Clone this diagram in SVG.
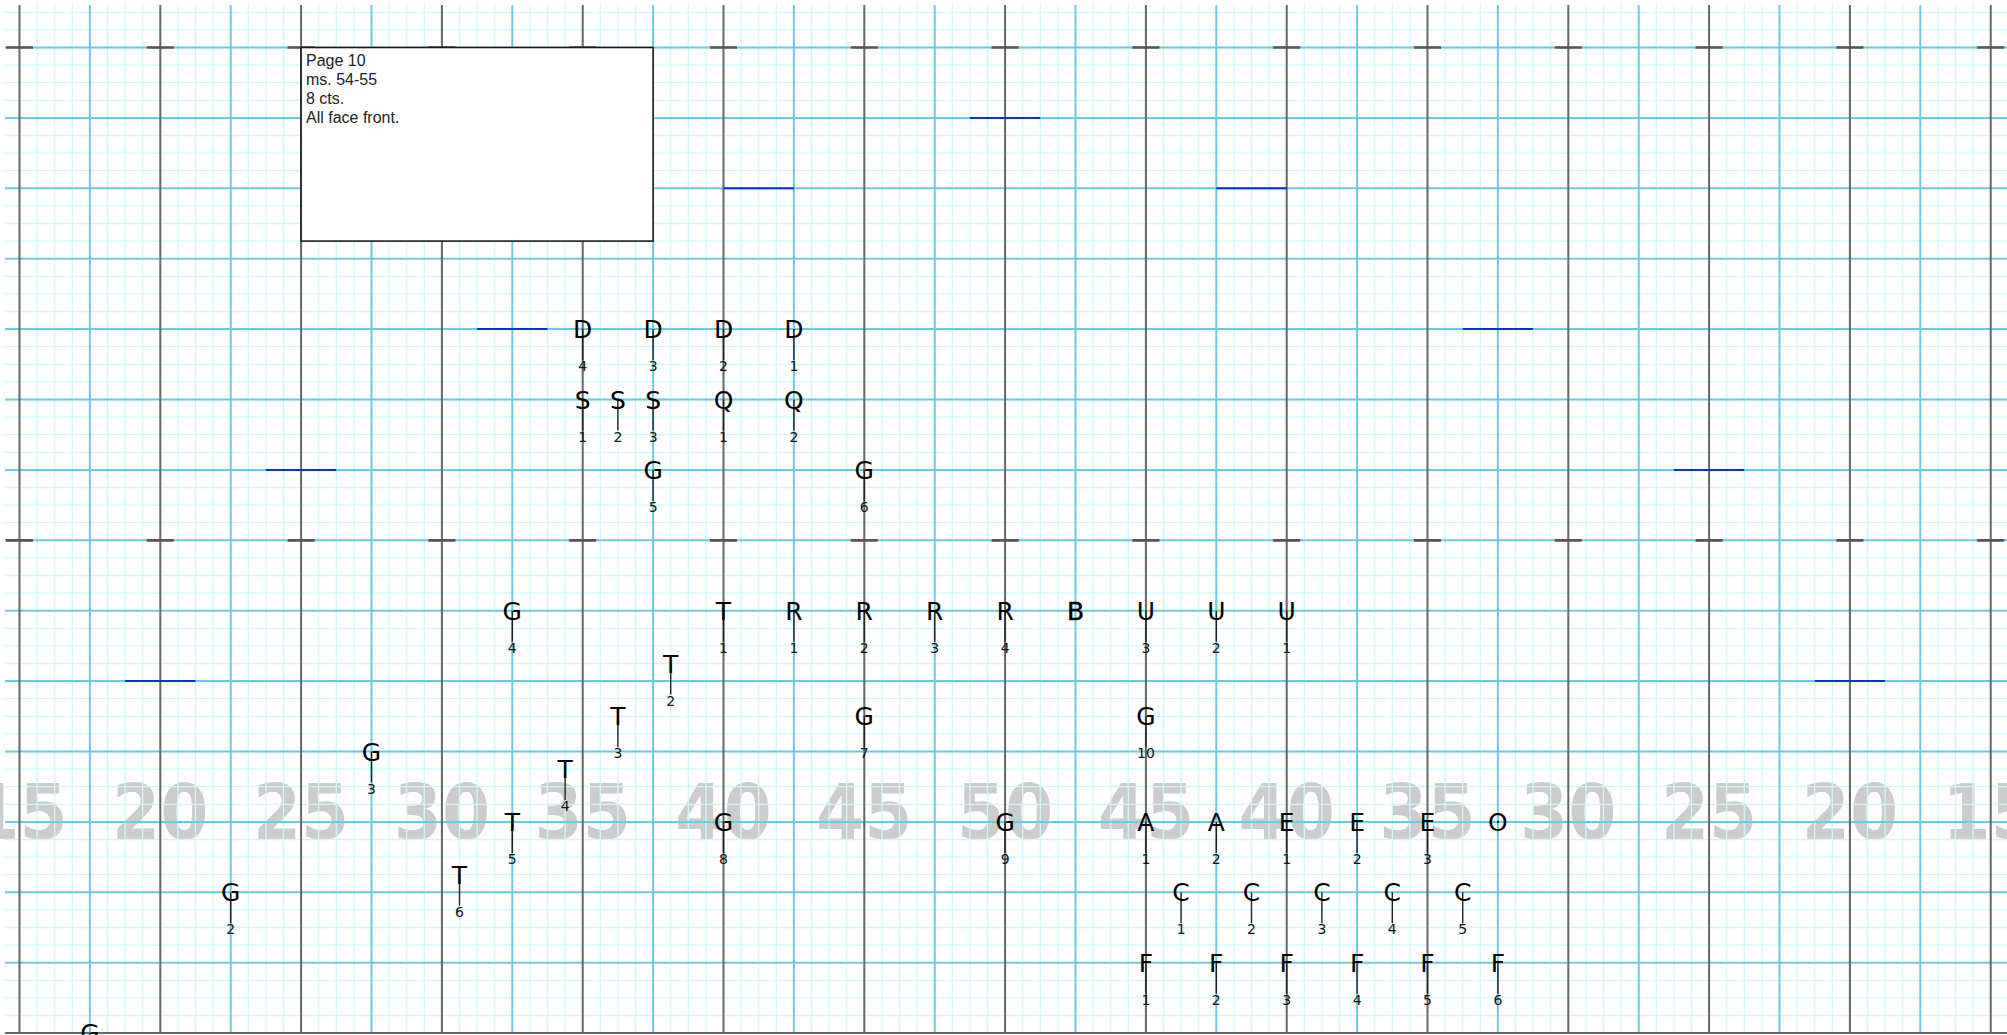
<svg xmlns="http://www.w3.org/2000/svg" width="2007" height="1035" viewBox="0 0 2007 1035">
<style>
.bg{fill:#ffffff}
.yard{font-family:"DejaVu Sans",Verdana,sans-serif;font-weight:bold;font-size:77px;fill:#cccccc;text-anchor:middle}
.minor{fill:none;stroke:#cdf7fc;stroke-width:1.3}
.major{fill:none;stroke:#6ccbe0;stroke-width:2}
.dark{fill:none;stroke:#666666;stroke-width:2}
.tick{fill:none;stroke:#555555;stroke-width:2.7}
.mark{fill:none;stroke:#0a2cf0;stroke-width:2}
.ltr{font-family:"DejaVu Sans",Verdana,sans-serif;font-size:25px;fill:#000;text-anchor:middle}
.num{font-family:"DejaVu Sans",Verdana,sans-serif;font-size:14px;fill:#111;text-anchor:middle}
.stem{stroke:#222;stroke-width:1.4}
.note{font-family:"Liberation Sans",Arial,sans-serif;font-size:16px;fill:#222}
</style>
<rect class="bg" x="0" y="0" width="2007" height="1035"/>
<g id="yard-numbers">
<text class="yard" transform="translate(19.5 839) scale(0.9 1)">15</text>
<text class="yard" transform="translate(160.3 839) scale(0.9 1)">20</text>
<text class="yard" transform="translate(301.1 839) scale(0.9 1)">25</text>
<text class="yard" transform="translate(441.9 839) scale(0.9 1)">30</text>
<text class="yard" transform="translate(582.7 839) scale(0.9 1)">35</text>
<text class="yard" transform="translate(723.5 839) scale(0.9 1)">40</text>
<text class="yard" transform="translate(864.3 839) scale(0.9 1)">45</text>
<text class="yard" transform="translate(1005.1 839) scale(0.9 1)">50</text>
<text class="yard" transform="translate(1145.9 839) scale(0.9 1)">45</text>
<text class="yard" transform="translate(1286.7 839) scale(0.9 1)">40</text>
<text class="yard" transform="translate(1427.5 839) scale(0.9 1)">35</text>
<text class="yard" transform="translate(1568.3 839) scale(0.9 1)">30</text>
<text class="yard" transform="translate(1709.1 839) scale(0.9 1)">25</text>
<text class="yard" transform="translate(1849.9 839) scale(0.9 1)">20</text>
<text class="yard" transform="translate(1990.7 839) scale(0.9 1)">15</text>
</g>
<g id="grid">
<path class="minor" d="M19.5 5V1033
m17.6-1028V1033m17.6-1028V1033m17.6-1028V1033m17.6-1028V1033m17.6-1028V1033m17.6-1028V1033m17.6-1028V1033m17.6-1028V1033
m17.6-1028V1033m17.6-1028V1033m17.6-1028V1033m17.6-1028V1033m17.6-1028V1033m17.6-1028V1033m17.6-1028V1033m17.6-1028V1033
m17.6-1028V1033m17.6-1028V1033m17.6-1028V1033m17.6-1028V1033m17.6-1028V1033m17.6-1028V1033m17.6-1028V1033m17.6-1028V1033
m17.6-1028V1033m17.6-1028V1033m17.6-1028V1033m17.6-1028V1033m17.6-1028V1033m17.6-1028V1033m17.6-1028V1033m17.6-1028V1033
m17.6-1028V1033m17.6-1028V1033m17.6-1028V1033m17.6-1028V1033m17.6-1028V1033m17.6-1028V1033m17.6-1028V1033m17.6-1028V1033
m17.6-1028V1033m17.6-1028V1033m17.6-1028V1033m17.6-1028V1033m17.6-1028V1033m17.6-1028V1033m17.6-1028V1033m17.6-1028V1033
m17.6-1028V1033m17.6-1028V1033m17.6-1028V1033m17.6-1028V1033m17.6-1028V1033m17.6-1028V1033m17.6-1028V1033m17.6-1028V1033
m17.6-1028V1033m17.6-1028V1033m17.6-1028V1033m17.6-1028V1033m17.6-1028V1033m17.6-1028V1033m17.6-1028V1033m17.6-1028V1033
m17.6-1028V1033m17.6-1028V1033m17.6-1028V1033m17.6-1028V1033m17.6-1028V1033m17.6-1028V1033m17.6-1028V1033m17.6-1028V1033
m17.6-1028V1033m17.6-1028V1033m17.6-1028V1033m17.6-1028V1033m17.6-1028V1033m17.6-1028V1033m17.6-1028V1033m17.6-1028V1033
m17.6-1028V1033m17.6-1028V1033m17.6-1028V1033m17.6-1028V1033m17.6-1028V1033m17.6-1028V1033m17.6-1028V1033m17.6-1028V1033
m17.6-1028V1033m17.6-1028V1033m17.6-1028V1033m17.6-1028V1033m17.6-1028V1033m17.6-1028V1033m17.6-1028V1033m17.6-1028V1033
m17.6-1028V1033m17.6-1028V1033m17.6-1028V1033m17.6-1028V1033m17.6-1028V1033m17.6-1028V1033m17.6-1028V1033m17.6-1028V1033
m17.6-1028V1033m17.6-1028V1033m17.6-1028V1033m17.6-1028V1033m17.6-1028V1033m17.6-1028V1033m17.6-1028V1033m17.6-1028V1033"/>
<path class="minor" d="M5 12.3H2007
m-2002 17.6H2007m-2002 17.6H2007m-2002 17.6H2007m-2002 17.6H2007m-2002 17.6H2007m-2002 17.6H2007m-2002 17.6H2007m-2002 17.6H2007
m-2002 17.6H2007m-2002 17.6H2007m-2002 17.6H2007m-2002 17.6H2007m-2002 17.6H2007m-2002 17.6H2007m-2002 17.6H2007m-2002 17.6H2007
m-2002 17.6H2007m-2002 17.6H2007m-2002 17.6H2007m-2002 17.6H2007m-2002 17.6H2007m-2002 17.6H2007m-2002 17.6H2007m-2002 17.6H2007
m-2002 17.6H2007m-2002 17.6H2007m-2002 17.6H2007m-2002 17.6H2007m-2002 17.6H2007m-2002 17.6H2007m-2002 17.6H2007m-2002 17.6H2007
m-2002 17.6H2007m-2002 17.6H2007m-2002 17.6H2007m-2002 17.6H2007m-2002 17.6H2007m-2002 17.6H2007m-2002 17.6H2007m-2002 17.6H2007
m-2002 17.6H2007m-2002 17.6H2007m-2002 17.6H2007m-2002 17.6H2007m-2002 17.6H2007m-2002 17.6H2007m-2002 17.6H2007m-2002 17.6H2007
m-2002 17.6H2007m-2002 17.6H2007m-2002 17.6H2007m-2002 17.6H2007m-2002 17.6H2007m-2002 17.6H2007m-2002 17.6H2007m-2002 17.6H2007
m-2002 17.6H2007m-2002 17.6H2007"/>
<path class="major" d="M5 47.5H2007m-2002 70.4H2007m-2002 70.4H2007m-2002 70.4H2007m-2002 70.4H2007m-2002 70.4H2007m-2002 70.4H2007m-2002 70.4H2007m-2002 70.4H2007m-2002 70.4H2007m-2002 70.4H2007m-2002 70.4H2007m-2002 70.4H2007m-2002 70.4H2007"/>
<path class="major" d="M89.9 5V1033m140.8-1028V1033m140.8-1028V1033m140.8-1028V1033m140.8-1028V1033m140.8-1028V1033m140.8-1028V1033m140.8-1028V1033m140.8-1028V1033m140.8-1028V1033m140.8-1028V1033m140.8-1028V1033m140.8-1028V1033m140.8-1028V1033"/>
<path class="dark" d="M19.5 5V1033m140.8-1028V1033m140.8-1028V1033m140.8-1028V1033m140.8-1028V1033m140.8-1028V1033m140.8-1028V1033m140.8-1028V1033m140.8-1028V1033m140.8-1028V1033m140.8-1028V1033m140.8-1028V1033m140.8-1028V1033m140.8-1028V1033m140.8-1028V1033"/>
<path class="dark" d="M5 1033.1H2007"/>
<path class="tick" d="M6 47.5h27m113.8 0h27m113.8 0h27m113.8 0h27m113.8 0h27m113.8 0h27m113.8 0h27m113.8 0h27m113.8 0h27m113.8 0h27m113.8 0h27m113.8 0h27m113.8 0h27m113.8 0h27m113.8 0h27"/>
<path class="tick" d="M6 540.3h27m113.8 0h27m113.8 0h27m113.8 0h27m113.8 0h27m113.8 0h27m113.8 0h27m113.8 0h27m113.8 0h27m113.8 0h27m113.8 0h27m113.8 0h27m113.8 0h27m113.8 0h27m113.8 0h27"/>
</g>
<g id="marks">
<path class="mark" d="M969.9 117.9H1040.3M723.5 188.3H793.9M1216.3 188.3H1286.7M477.1 329.1H547.5M1462.7 329.1H1533.1M265.9 469.9H336.3M1673.9 469.9H1744.3M125.1 681.1H195.5M1814.7 681.1H1885.1"/>
</g>
<g id="note">
<rect x="301.1" y="47.5" width="352" height="193.6" fill="#ffffff" stroke="#1a1a1a" stroke-width="1.6"/>
<text class="note" x="306" y="66">Page 10</text>
<text class="note" x="306" y="85">ms. 54-55</text>
<text class="note" x="306" y="104">8 cts.</text>
<text class="note" x="306" y="122.5">All face front.</text>
</g>
<g id="connectors"></g>
<g id="dancers">
<g id="D4" transform="translate(582.7 329.1)"><line class="stem" x1="0" y1="0" x2="0" y2="31"/><text class="ltr" y="9">D</text><text class="num" y="42">4</text></g>
<g id="D3" transform="translate(653.1 329.1)"><line class="stem" x1="0" y1="0" x2="0" y2="31"/><text class="ltr" y="9">D</text><text class="num" y="42">3</text></g>
<g id="D2" transform="translate(723.5 329.1)"><line class="stem" x1="0" y1="0" x2="0" y2="31"/><text class="ltr" y="9">D</text><text class="num" y="42">2</text></g>
<g id="D1" transform="translate(793.9 329.1)"><line class="stem" x1="0" y1="0" x2="0" y2="31"/><text class="ltr" y="9">D</text><text class="num" y="42">1</text></g>
<g id="S1" transform="translate(582.7 399.5)"><line class="stem" x1="0" y1="0" x2="0" y2="31"/><text class="ltr" y="9">S</text><text class="num" y="42">1</text></g>
<g id="S2" transform="translate(617.9 399.5)"><line class="stem" x1="0" y1="0" x2="0" y2="31"/><text class="ltr" y="9">S</text><text class="num" y="42">2</text></g>
<g id="S3" transform="translate(653.1 399.5)"><line class="stem" x1="0" y1="0" x2="0" y2="31"/><text class="ltr" y="9">S</text><text class="num" y="42">3</text></g>
<g id="Q1" transform="translate(723.5 399.5)"><line class="stem" x1="0" y1="0" x2="0" y2="31"/><text class="ltr" y="9">Q</text><text class="num" y="42">1</text></g>
<g id="Q2" transform="translate(793.9 399.5)"><line class="stem" x1="0" y1="0" x2="0" y2="31"/><text class="ltr" y="9">Q</text><text class="num" y="42">2</text></g>
<g id="G5" transform="translate(653.1 469.9)"><line class="stem" x1="0" y1="0" x2="0" y2="31"/><text class="ltr" y="9">G</text><text class="num" y="42">5</text></g>
<g id="G6" transform="translate(864.3 469.9)"><line class="stem" x1="0" y1="0" x2="0" y2="31"/><text class="ltr" y="9">G</text><text class="num" y="42">6</text></g>
<g id="G4" transform="translate(512.3 610.7)"><line class="stem" x1="0" y1="0" x2="0" y2="31"/><text class="ltr" y="9">G</text><text class="num" y="42">4</text></g>
<g id="T1" transform="translate(723.5 610.7)"><line class="stem" x1="0" y1="0" x2="0" y2="31"/><text class="ltr" y="9">T</text><text class="num" y="42">1</text></g>
<g id="R1" transform="translate(793.9 610.7)"><line class="stem" x1="0" y1="0" x2="0" y2="31"/><text class="ltr" y="9">R</text><text class="num" y="42">1</text></g>
<g id="R2" transform="translate(864.3 610.7)"><line class="stem" x1="0" y1="0" x2="0" y2="31"/><text class="ltr" y="9">R</text><text class="num" y="42">2</text></g>
<g id="R3" transform="translate(934.7 610.7)"><line class="stem" x1="0" y1="0" x2="0" y2="31"/><text class="ltr" y="9">R</text><text class="num" y="42">3</text></g>
<g id="R4" transform="translate(1005.1 610.7)"><line class="stem" x1="0" y1="0" x2="0" y2="31"/><text class="ltr" y="9">R</text><text class="num" y="42">4</text></g>
<g id="B" transform="translate(1075.5 610.7)"><text class="ltr" y="9" stroke="#000" stroke-width="0.5">B</text></g>
<g id="U3" transform="translate(1145.9 610.7)"><line class="stem" x1="0" y1="0" x2="0" y2="31"/><text class="ltr" y="9">U</text><text class="num" y="42">3</text></g>
<g id="U2" transform="translate(1216.3 610.7)"><line class="stem" x1="0" y1="0" x2="0" y2="31"/><text class="ltr" y="9">U</text><text class="num" y="42">2</text></g>
<g id="U1" transform="translate(1286.7 610.7)"><line class="stem" x1="0" y1="0" x2="0" y2="31"/><text class="ltr" y="9">U</text><text class="num" y="42">1</text></g>
<g id="T2" transform="translate(670.7 663.5)"><line class="stem" x1="0" y1="0" x2="0" y2="31"/><text class="ltr" y="9">T</text><text class="num" y="42">2</text></g>
<g id="T3" transform="translate(617.9 716.3)"><line class="stem" x1="0" y1="0" x2="0" y2="31"/><text class="ltr" y="9">T</text><text class="num" y="42">3</text></g>
<g id="T4" transform="translate(565.1 769.1)"><line class="stem" x1="0" y1="0" x2="0" y2="31"/><text class="ltr" y="9">T</text><text class="num" y="42">4</text></g>
<g id="T5" transform="translate(512.3 821.9)"><line class="stem" x1="0" y1="0" x2="0" y2="31"/><text class="ltr" y="9">T</text><text class="num" y="42">5</text></g>
<g id="T6" transform="translate(459.5 874.7)"><line class="stem" x1="0" y1="0" x2="0" y2="31"/><text class="ltr" y="9">T</text><text class="num" y="42">6</text></g>
<g id="G7" transform="translate(864.3 716.3)"><line class="stem" x1="0" y1="0" x2="0" y2="31"/><text class="ltr" y="9">G</text><text class="num" y="42">7</text></g>
<g id="G10" transform="translate(1145.9 716.3)"><line class="stem" x1="0" y1="0" x2="0" y2="31"/><text class="ltr" y="9">G</text><text class="num" y="42">10</text></g>
<g id="G3" transform="translate(371.5 751.5)"><line class="stem" x1="0" y1="0" x2="0" y2="31"/><text class="ltr" y="9">G</text><text class="num" y="42">3</text></g>
<g id="G8" transform="translate(723.5 821.9)"><line class="stem" x1="0" y1="0" x2="0" y2="31"/><text class="ltr" y="9">G</text><text class="num" y="42">8</text></g>
<g id="G9" transform="translate(1005.1 821.9)"><line class="stem" x1="0" y1="0" x2="0" y2="31"/><text class="ltr" y="9">G</text><text class="num" y="42">9</text></g>
<g id="A1" transform="translate(1145.9 821.9)"><line class="stem" x1="0" y1="0" x2="0" y2="31"/><text class="ltr" y="9">A</text><text class="num" y="42">1</text></g>
<g id="A2" transform="translate(1216.3 821.9)"><line class="stem" x1="0" y1="0" x2="0" y2="31"/><text class="ltr" y="9">A</text><text class="num" y="42">2</text></g>
<g id="E1" transform="translate(1286.7 821.9)"><line class="stem" x1="0" y1="0" x2="0" y2="31"/><text class="ltr" y="9">E</text><text class="num" y="42">1</text></g>
<g id="E2" transform="translate(1357.1 821.9)"><line class="stem" x1="0" y1="0" x2="0" y2="31"/><text class="ltr" y="9">E</text><text class="num" y="42">2</text></g>
<g id="E3" transform="translate(1427.5 821.9)"><line class="stem" x1="0" y1="0" x2="0" y2="31"/><text class="ltr" y="9">E</text><text class="num" y="42">3</text></g>
<g id="O" transform="translate(1497.9 821.9)"><rect x="-1" y="-1" width="2" height="2" fill="#222"/><text class="ltr" y="9">O</text></g>
<g id="G2" transform="translate(230.7 892.3)"><line class="stem" x1="0" y1="0" x2="0" y2="31"/><text class="ltr" y="9">G</text><text class="num" y="42">2</text></g>
<g id="C1" transform="translate(1181.1 892.3)"><line class="stem" x1="0" y1="0" x2="0" y2="31"/><text class="ltr" y="9">C</text><text class="num" y="42">1</text></g>
<g id="C2" transform="translate(1251.5 892.3)"><line class="stem" x1="0" y1="0" x2="0" y2="31"/><text class="ltr" y="9">C</text><text class="num" y="42">2</text></g>
<g id="C3" transform="translate(1321.9 892.3)"><line class="stem" x1="0" y1="0" x2="0" y2="31"/><text class="ltr" y="9">C</text><text class="num" y="42">3</text></g>
<g id="C4" transform="translate(1392.3 892.3)"><line class="stem" x1="0" y1="0" x2="0" y2="31"/><text class="ltr" y="9">C</text><text class="num" y="42">4</text></g>
<g id="C5" transform="translate(1462.7 892.3)"><line class="stem" x1="0" y1="0" x2="0" y2="31"/><text class="ltr" y="9">C</text><text class="num" y="42">5</text></g>
<g id="F1" transform="translate(1145.9 962.7)"><line class="stem" x1="0" y1="0" x2="0" y2="31"/><text class="ltr" y="9">F</text><text class="num" y="42">1</text></g>
<g id="F2" transform="translate(1216.3 962.7)"><line class="stem" x1="0" y1="0" x2="0" y2="31"/><text class="ltr" y="9">F</text><text class="num" y="42">2</text></g>
<g id="F3" transform="translate(1286.7 962.7)"><line class="stem" x1="0" y1="0" x2="0" y2="31"/><text class="ltr" y="9">F</text><text class="num" y="42">3</text></g>
<g id="F4" transform="translate(1357.1 962.7)"><line class="stem" x1="0" y1="0" x2="0" y2="31"/><text class="ltr" y="9">F</text><text class="num" y="42">4</text></g>
<g id="F5" transform="translate(1427.5 962.7)"><line class="stem" x1="0" y1="0" x2="0" y2="31"/><text class="ltr" y="9">F</text><text class="num" y="42">5</text></g>
<g id="F6" transform="translate(1497.9 962.7)"><line class="stem" x1="0" y1="0" x2="0" y2="31"/><text class="ltr" y="9">F</text><text class="num" y="42">6</text></g>
<g id="G1" transform="translate(89.9 1033.1)"><line class="stem" x1="0" y1="0" x2="0" y2="31"/><text class="ltr" y="9">G</text></g>
</g>
</svg>
